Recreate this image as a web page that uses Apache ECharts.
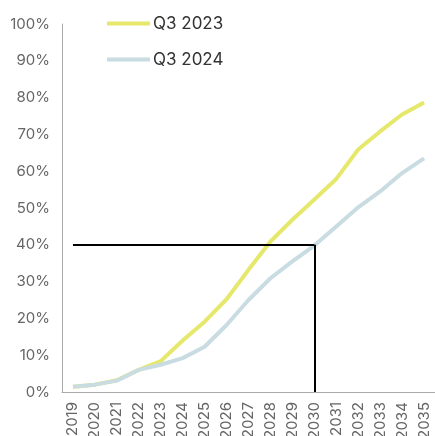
<!DOCTYPE html>
<html><head><meta charset="utf-8">
<script src="https://cdn.jsdelivr.net/npm/echarts@6/dist/echarts.min.js"></script>
<style>html,body{margin:0;padding:0;background:#fff}#c{width:435px;height:436px}</style>
</head><body><div id="c"></div>
<script>
const years = ['2019','2020','2021','2022','2023','2024','2025','2026','2027','2028','2029','2030','2031','2032','2033','2034','2035'];
const q3_2023 = [1.4, 2.0, 3.2, 6.0, 8.4, 14.0, 19.1, 25.2, 33.2, 40.9, 46.8, 52.3, 57.9, 65.9, 70.8, 75.4, 78.7];
const q3_2024 = [1.4, 2.0, 3.1, 6.0, 7.4, 9.2, 12.3, 18.2, 25.0, 30.9, 35.5, 39.8, 45.0, 50.2, 54.5, 59.5, 63.5];
const refYear = '2030';
const refValue = 40;
const FONT = 'Inter, Roboto, sans-serif';
const chart = echarts.init(document.getElementById('c'));
chart.setOption({
  animation: false,
  textStyle: {fontFamily: FONT},
  grid: {left: 62, right: 0, top: 24, bottom: 44, containLabel: false, outerBoundsMode: 'none'},
  legend: {
    orient: 'vertical', left: 107, top: 15, itemGap: 19, padding: 0,
    icon: 'rect', itemWidth: 43, itemHeight: 4,
    textStyle: {fontSize: 17, color: '#333', fontFamily: FONT, padding: [0,0,0,-2]},
    data: ['Q3 2023', 'Q3 2024']
  },
  xAxis: {
    type: 'category', data: years, boundaryGap: true,
    axisLine: {lineStyle: {color: '#aaa', width: 1}},
    axisTick: {show: false},
    axisLabel: {rotate: 90, fontSize: 15, color: '#666', margin: 10, interval: 0}
  },
  yAxis: {
    type: 'value', min: 0, max: 100, interval: 10,
    axisLine: {show: true, lineStyle: {color: '#aaa', width: 1}},
    axisTick: {show: false},
    splitLine: {show: false},
    axisLabel: {formatter: '{value}%', fontSize: 15, color: '#666', margin: 12}
  },
  series: [
    {name: 'Q3 2023', type: 'line', data: q3_2023, showSymbol: false,
     lineStyle: {color: '#e6e86c', width: 4}, itemStyle: {color: '#e6e86c'},
     markLine: {
       silent: true, symbol: 'none', label: {show: false},
       lineStyle: {color: '#000', width: 2, type: 'solid'},
       data: [
         [{coord: [years[0], refValue]}, {coord: [refYear, refValue]}],
         [{coord: [refYear, refValue]}, {coord: [refYear, 0]}]
       ]
     }},
    {name: 'Q3 2024', type: 'line', data: q3_2024, showSymbol: false,
     lineStyle: {color: '#c8dce1', width: 4}, itemStyle: {color: '#c8dce1'}}
  ]
});
</script></body></html>
